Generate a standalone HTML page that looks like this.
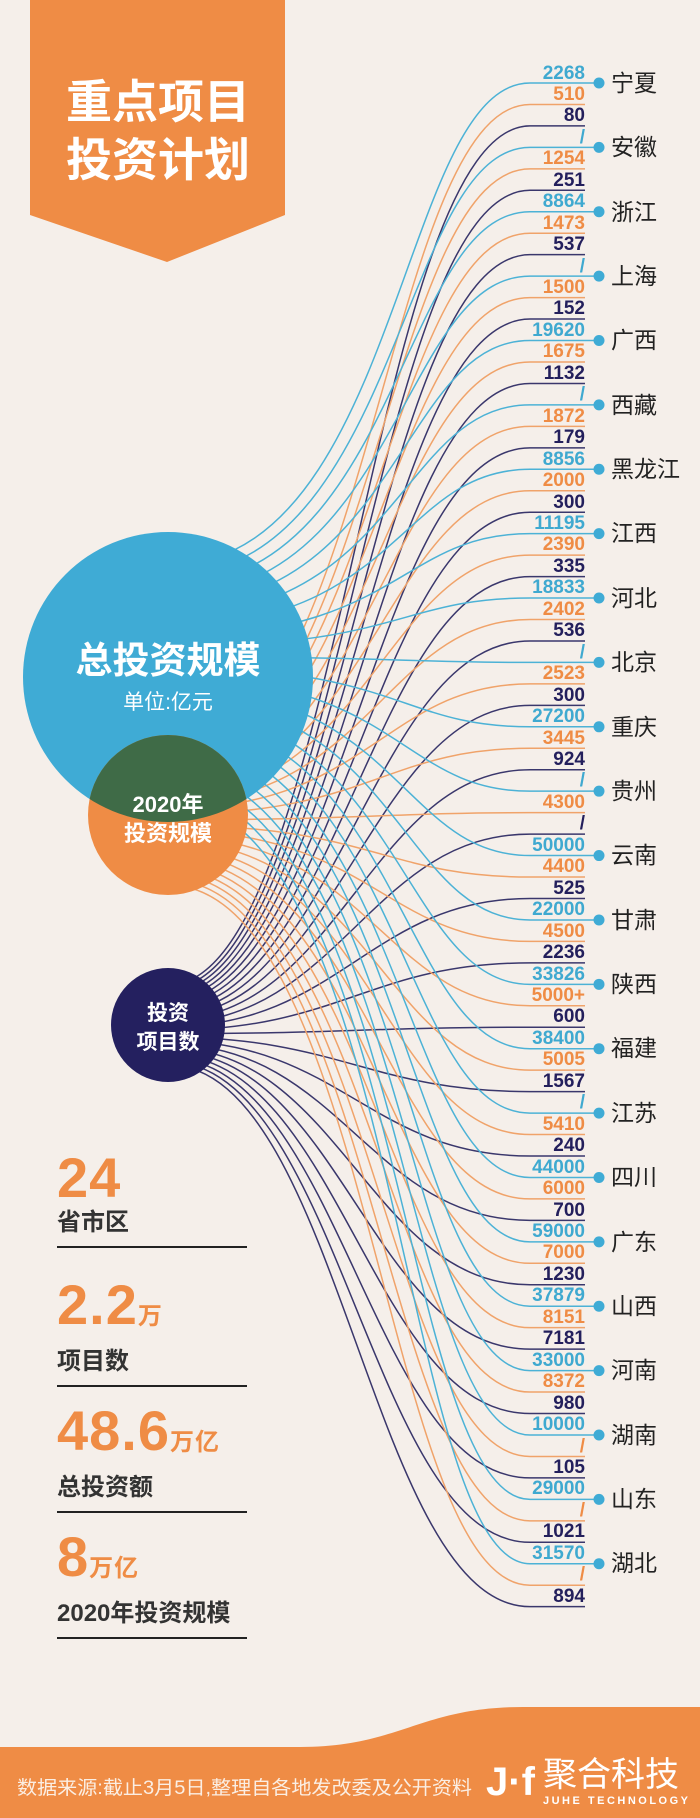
<!DOCTYPE html>
<html><head><meta charset="utf-8">
<style>
*{margin:0;padding:0;box-sizing:border-box}
body{width:700px;height:1818px;background:#f5efea;position:relative;overflow:hidden;font-family:"Liberation Sans","Noto Sans CJK SC",sans-serif}
svg{position:absolute;left:0;top:0}
.vals{position:absolute;left:380px;top:62.5px;width:205px}
.vals div{height:21.46px;line-height:21.46px;text-align:right;font-weight:bold;font-size:19px}
.b{color:#3fa9d0}.o{color:#ef8c45}.n{color:#231f5c}
.prov{position:absolute;left:611px;top:50.8px}
.prov div{height:64.38px;line-height:64.38px;font-size:23px;color:#222;white-space:nowrap}
.stat{position:absolute;left:57px;width:190px;border-bottom:2px solid #222}
.big{color:#ef8c45;font-weight:bold;font-size:56px;line-height:56px;letter-spacing:1px}
.big span{font-size:24px}
.lbl{font-size:24px;font-weight:bold;color:#333;line-height:34px;padding-bottom:6px}
</style></head><body>
<svg width="700" height="1818" id="s">
<polygon points="30,0 285,0 285,215 167,262 30,215" fill="#ef8c45"/>
<path d="M0 1747 L300 1747 C400 1747 420 1707 523 1707 L700 1707 L700 1818 L0 1818 Z" fill="#ef8c45"/>
<g id="lines" fill="none" stroke-width="1.5"></g>
<circle cx="168" cy="677" r="145" fill="#3fabd5"/>
<circle cx="168" cy="815" r="80" fill="#ef8c45"/>
<clipPath id="cp"><circle cx="168" cy="677" r="145"/></clipPath>
<circle cx="168" cy="815" r="80" fill="#3f6b47" clip-path="url(#cp)"/>
<circle cx="168" cy="1025" r="57" fill="#24205f"/>
<text x="168" y="673" text-anchor="middle" font-size="37" font-weight="bold" fill="#fff" font-family="Liberation Sans,Noto Sans CJK SC,sans-serif">总投资规模</text>
<text x="168" y="709" text-anchor="middle" font-size="21" fill="#fff" font-family="Liberation Sans,Noto Sans CJK SC,sans-serif">单位:亿元</text>
<text x="168" y="812" text-anchor="middle" font-size="22" font-weight="bold" fill="#fff" font-family="Liberation Sans,Noto Sans CJK SC,sans-serif">2020年</text>
<text x="168" y="841" text-anchor="middle" font-size="22" font-weight="bold" fill="#fff" font-family="Liberation Sans,Noto Sans CJK SC,sans-serif">投资规模</text>
<text x="168" y="1020" text-anchor="middle" font-size="21" font-weight="bold" fill="#fff" font-family="Liberation Sans,Noto Sans CJK SC,sans-serif">投资</text>
<text x="168" y="1049" text-anchor="middle" font-size="21" font-weight="bold" fill="#fff" font-family="Liberation Sans,Noto Sans CJK SC,sans-serif">项目数</text>
<text x="158" y="118" text-anchor="middle" font-size="46" font-weight="bold" fill="#fff" font-family="Liberation Sans,Noto Sans CJK SC,sans-serif">重点项目</text>
<text x="158" y="176" text-anchor="middle" font-size="46" font-weight="bold" fill="#fff" font-family="Liberation Sans,Noto Sans CJK SC,sans-serif">投资计划</text>
<text x="17" y="1794" font-size="19" fill="#fbeee3" font-family="Liberation Sans,Noto Sans CJK SC,sans-serif" textLength="455" lengthAdjust="spacingAndGlyphs">数据来源:截止3月5日,整理自各地发改委及公开资料</text>
<text x="486" y="1795" font-size="40" font-weight="bold" fill="#fff" font-family="Liberation Sans,sans-serif">J·f</text>
<text x="543" y="1786" font-size="34" fill="#fff" font-family="Liberation Sans,Noto Sans CJK SC,sans-serif">聚合科技</text>
<text x="543" y="1804" font-size="11" font-weight="bold" fill="#fff" font-family="Liberation Sans,sans-serif" textLength="145" lengthAdjust="spacing">JUHE TECHNOLOGY</text>
<g id="dots" fill="#3fabd5"></g>
</svg>

<div class="vals">
<div class="b">2268</div><div class="o">510</div><div class="n">80</div>
<div class="b">/</div><div class="o">1254</div><div class="n">251</div>
<div class="b">8864</div><div class="o">1473</div><div class="n">537</div>
<div class="b">/</div><div class="o">1500</div><div class="n">152</div>
<div class="b">19620</div><div class="o">1675</div><div class="n">1132</div>
<div class="b">/</div><div class="o">1872</div><div class="n">179</div>
<div class="b">8856</div><div class="o">2000</div><div class="n">300</div>
<div class="b">11195</div><div class="o">2390</div><div class="n">335</div>
<div class="b">18833</div><div class="o">2402</div><div class="n">536</div>
<div class="b">/</div><div class="o">2523</div><div class="n">300</div>
<div class="b">27200</div><div class="o">3445</div><div class="n">924</div>
<div class="b">/</div><div class="o">4300</div><div class="n">/</div>
<div class="b">50000</div><div class="o">4400</div><div class="n">525</div>
<div class="b">22000</div><div class="o">4500</div><div class="n">2236</div>
<div class="b">33826</div><div class="o">5000+</div><div class="n">600</div>
<div class="b">38400</div><div class="o">5005</div><div class="n">1567</div>
<div class="b">/</div><div class="o">5410</div><div class="n">240</div>
<div class="b">44000</div><div class="o">6000</div><div class="n">700</div>
<div class="b">59000</div><div class="o">7000</div><div class="n">1230</div>
<div class="b">37879</div><div class="o">8151</div><div class="n">7181</div>
<div class="b">33000</div><div class="o">8372</div><div class="n">980</div>
<div class="b">10000</div><div class="o">/</div><div class="n">105</div>
<div class="b">29000</div><div class="o">/</div><div class="n">1021</div>
<div class="b">31570</div><div class="o">/</div><div class="n">894</div>
</div>

<div class="prov">
<div>宁夏</div><div>安徽</div><div>浙江</div><div>上海</div><div>广西</div><div>西藏</div>
<div>黑龙江</div><div>江西</div><div>河北</div><div>北京</div><div>重庆</div><div>贵州</div>
<div>云南</div><div>甘肃</div><div>陕西</div><div>福建</div><div>江苏</div><div>四川</div>
<div>广东</div><div>山西</div><div>河南</div><div>湖南</div><div>山东</div><div>湖北</div>
</div>

<div class="stat" style="top:1150px"><div class="big">24</div><div class="lbl">省市区</div></div>
<div class="stat" style="top:1277px"><div class="big">2.2<span>万</span></div><div class="lbl">项目数</div></div>
<div class="stat" style="top:1403px"><div class="big">48.6<span>万亿</span></div><div class="lbl">总投资额</div></div>
<div class="stat" style="top:1529px"><div class="big">8<span>万亿</span></div><div class="lbl">2020年投资规模</div></div>

<script>
var g=document.getElementById('lines'),d=document.getElementById('dots'),ns='http://www.w3.org/2000/svg';
var cols=['#4cb2d6','#f0a36a','#3a376c'];
var ranges=[[565,800],[760,885],[985,1065]];
var c1x=[400,370,340],c2x=[400,385,370];
for(var i=0;i<72;i++){
 var t=i%3,k=Math.floor(i/3),ey=83+21.46*i;
 var sy=ranges[t][0]+(ranges[t][1]-ranges[t][0])*k/23;
 var sx=168,end=t==0?599:585;
 var p=document.createElementNS(ns,'path');
 p.setAttribute('d','M'+sx+' '+sy+' C'+c1x[t]+' '+sy+' '+c2x[t]+' '+ey+' 530 '+ey+' L'+end+' '+ey);
 p.setAttribute('stroke',cols[t]);g.appendChild(p);
 if(t==0){var c=document.createElementNS(ns,'circle');c.setAttribute('cx',599);c.setAttribute('cy',ey);c.setAttribute('r',5.5);d.appendChild(c);}
}
</script>
</body></html>
